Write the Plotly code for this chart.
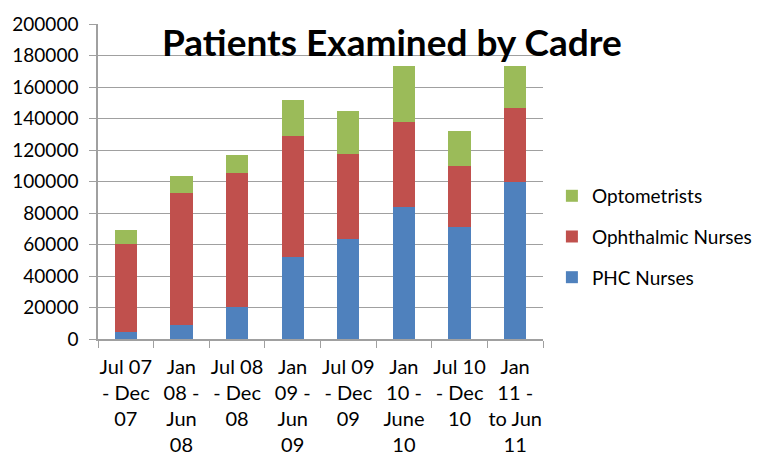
import plotly.graph_objects as go

categories = [
    "Jul 07<br>- Dec<br>07",
    "Jan<br>08 -<br>Jun<br>08",
    "Jul 08<br>- Dec<br>08",
    "Jan<br>09 -<br>Jun<br>09",
    "Jul 09<br>- Dec<br>09",
    "Jan<br>10 -<br>June<br>10",
    "Jul 10<br>- Dec<br>10",
    "Jan<br>11 -<br>to Jun<br>11",
]
phc_nurses = [4200, 8900, 20300, 51900, 63300, 84000, 71100, 99500]
ophthalmic_nurses = [56300, 84000, 84900, 77200, 54400, 53800, 38700, 47200]
optometrists = [8900, 10800, 11800, 22800, 26800, 35800, 22100, 26900]
y_ticks = list(range(0, 200001, 20000))

series = [
    ("PHC Nurses", phc_nurses, "#4F81BD", 3),
    ("Ophthalmic Nurses", ophthalmic_nurses, "#C0504D", 2),
    ("Optometrists", optometrists, "#9BBB59", 1),
]

fig = go.Figure()
for name, vals, color, rank in series:
    fig.add_trace(go.Bar(
        x=categories, y=vals, name=name, marker_color=color,
        marker_line_width=0, legendgroup=name, legendrank=rank, width=0.4,
    ))

font_family = "Lato, Carlito, Calibri, sans-serif"
fig.update_layout(
    width=759, height=447,
    barmode="stack",
    plot_bgcolor="white", paper_bgcolor="white",
    margin=dict(l=90, r=224, t=16, b=116, autoexpand=False),
    font=dict(family=font_family, size=19, color="black"),
    showlegend=True,
    legend=dict(
        traceorder="grouped", tracegroupgap=13,
        x=1.02, y=0.324, xanchor="left", yanchor="middle",
        font=dict(size=19), bgcolor="rgba(0,0,0,0)",
    ),
    xaxis=dict(
        showline=True, linecolor="#A0A0A0", linewidth=1.5,
        ticks="outside", tickson="boundaries", ticklen=7, tickcolor="#A0A0A0",
        showgrid=False, tickfont=dict(size=20), tickangle=0,
        ticklabelstandoff=9,
    ),
    yaxis=dict(
        range=[0, 200000], tickvals=y_ticks, tickformat="d",
        showline=True, linecolor="#A0A0A0", linewidth=1.5,
        ticks="outside", ticklen=7, tickcolor="#A0A0A0",
        showgrid=True, gridcolor="#A0A0A0", gridwidth=1.2,
        zeroline=False, tickfont=dict(size=19), ticklabelstandoff=7,
    ),
    annotations=[dict(
        text="<b>Patients Examined by Cadre</b>",
        xref="paper", yref="paper", x=0.66, y=0.943,
        xanchor="center", yanchor="middle", showarrow=False,
        font=dict(size=37, family=font_family, color="black"),
    )],
)

fig.write_html("out.html")
